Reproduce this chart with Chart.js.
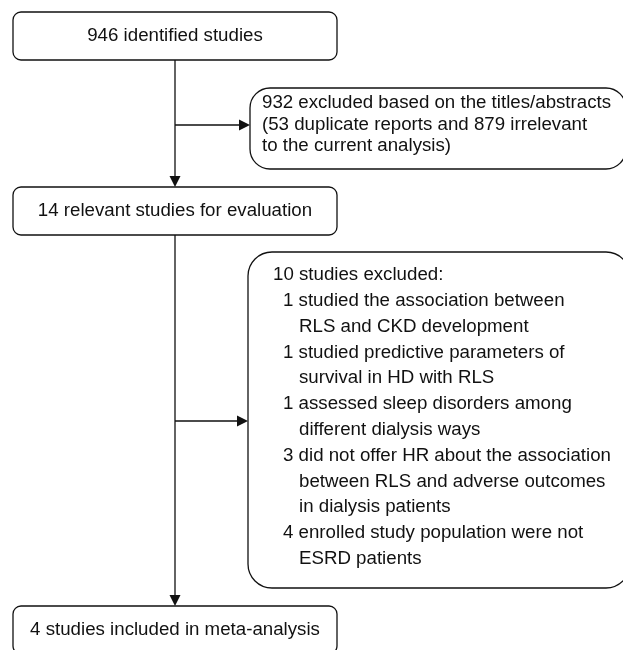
<!DOCTYPE html>
<html lang="en">
<head>
<meta charset="UTF-8">
<title>Study selection flow</title>
<style>
  html, body { margin: 0; padding: 0; background: #fff; overflow: hidden; }
</style>
</head>
<body>
<canvas id="flow" width="623" height="650"></canvas>
<script src="https://cdn.jsdelivr.net/npm/chart.js/dist/chart.umd.min.js"></script>
<script>
    // numbers of studies at each step
    const identified = 946;
    const excludedTitle = 932;
    const duplicates = 53;
    const irrelevant = 879;
    const relevant = 14;
    const excludedTotal = 10;
    const reasonCounts = [1, 1, 1, 3, 4];
    const included = 4;

    // wording for each exclusion reason (one entry per wrapped line)
    const reasonText = [
        ['studied the association between', 'RLS and CKD development'],
        ['studied predictive parameters of', 'survival in HD with RLS'],
        ['assessed sleep disorders among', 'different dialysis ways'],
        ['did not offer HR about the association', 'between RLS and adverse outcomes', 'in dialysis patients'],
        ['enrolled study population were not', 'ESRD patients']
    ];

    // boxes in pixel units of the 623 x 650 canvas (the scales run 0..623 and 0..650)
    const boxes = {
        identified: { x1: 13, y1: 12, x2: 337, y2: 60, r: 8 },
        excluded1: { x1: 250, y1: 88, x2: 626, y2: 169, r: 20 },
        relevant: { x1: 13, y1: 187, x2: 337, y2: 235, r: 8 },
        excluded2: { x1: 248, y1: 252, x2: 630, y2: 588, r: 24 },
        included: { x1: 13, y1: 606, x2: 337, y2: 654, r: 8 }
    };
    const spineX = 175;
    const branchY = [125, 421];
    const firstLines = { x: 262, y: 103, gap: 21.6 };
    const reasonLines = { x: 273, y: 275, gap: 25.8 };
    const indent = [0, 10, 26];

    const FONT = '18.7px "Liberation Sans", Arial, sans-serif';
    const INK = '#111';

    function roundBox(ctx, x1, y1, x2, y2, r) {
        ctx.beginPath();
        ctx.moveTo(x1 + r, y1);
        ctx.arcTo(x2, y1, x2, y2, r);
        ctx.arcTo(x2, y2, x1, y2, r);
        ctx.arcTo(x1, y2, x1, y1, r);
        ctx.arcTo(x1, y1, x2, y1, r);
        ctx.closePath();
        ctx.stroke();
    }

    function arrowHead(ctx, x, y, dir) {
        const L = 11, W = 5.5;
        ctx.beginPath();
        if (dir === 'down') {
            ctx.moveTo(x, y);
            ctx.lineTo(x - W, y - L);
            ctx.lineTo(x + W, y - L);
        } else {
            ctx.moveTo(x, y);
            ctx.lineTo(x - L, y - W);
            ctx.lineTo(x - L, y + W);
        }
        ctx.closePath();
        ctx.fill();
    }

    const flowPlugin = {
        id: 'flow',
        afterDraw(chart) {
            const ctx = chart.ctx;
            const sx = chart.scales.x, sy = chart.scales.y;
            const X = v => sx.getPixelForValue(v);
            const Y = v => sy.getPixelForValue(v);
            ctx.save();
            ctx.strokeStyle = INK;
            ctx.fillStyle = INK;
            ctx.lineWidth = 1.3;

            // boxes
            Object.values(boxes).forEach(b => roundBox(ctx, X(b.x1), Y(b.y1), X(b.x2), Y(b.y2), b.r));

            // connectors
            const b = boxes;
            ctx.beginPath();
            ctx.moveTo(X(spineX), Y(b.identified.y2));
            ctx.lineTo(X(spineX), Y(b.relevant.y1) - 10);
            ctx.moveTo(X(spineX), Y(b.relevant.y2));
            ctx.lineTo(X(spineX), Y(b.included.y1) - 10);
            ctx.moveTo(X(spineX), Y(branchY[0]));
            ctx.lineTo(X(b.excluded1.x1) - 10, Y(branchY[0]));
            ctx.moveTo(X(spineX), Y(branchY[1]));
            ctx.lineTo(X(b.excluded2.x1) - 10, Y(branchY[1]));
            ctx.stroke();
            arrowHead(ctx, X(spineX), Y(b.relevant.y1), 'down');
            arrowHead(ctx, X(spineX), Y(b.included.y1), 'down');
            arrowHead(ctx, X(b.excluded1.x1), Y(branchY[0]), 'right');
            arrowHead(ctx, X(b.excluded2.x1), Y(branchY[1]), 'right');

            // texts
            ctx.font = FONT;
            ctx.textBaseline = 'middle';
            ctx.textAlign = 'center';
            const mid = bx => X((bx.x1 + bx.x2) / 2);
            const midY = bx => Y((bx.y1 + bx.y2) / 2);
            ctx.fillText(identified + ' identified studies', mid(b.identified), midY(b.identified));
            ctx.fillText(relevant + ' relevant studies for evaluation', mid(b.relevant), midY(b.relevant));
            ctx.fillText(included + ' studies included in meta-analysis', mid(b.included), midY(b.included));

            ctx.textAlign = 'left';
            const first = [
                excludedTitle + ' excluded based on the titles/abstracts',
                '(' + duplicates + ' duplicate reports and ' + irrelevant + ' irrelevant',
                'to the current analysis)'
            ];
            first.forEach((t, i) => ctx.fillText(t, X(firstLines.x), Y(firstLines.y + i * firstLines.gap)));

            const rows = [[0, excludedTotal + ' studies excluded:']];
            reasonCounts.forEach((n, i) => {
                reasonText[i].forEach((t, j) => {
                    rows.push(j === 0 ? [1, n + ' ' + t] : [2, t]);
                });
            });
            rows.forEach((row, i) => {
                ctx.fillText(row[1], X(reasonLines.x + indent[row[0]]), Y(reasonLines.y + i * reasonLines.gap));
            });
            ctx.restore();
        }
    };

    new Chart(document.getElementById('flow'), {
        type: 'scatter',
        data: { datasets: [{ data: [], pointRadius: 0 }] },
        options: {
            responsive: false,
            animation: false,
            devicePixelRatio: 1,
            layout: { padding: 0 },
            plugins: { legend: { display: false }, tooltip: { enabled: false } },
            scales: {
                x: { type: 'linear', min: 0, max: 623, display: false },
                y: { type: 'linear', min: 0, max: 650, reverse: true, display: false }
            }
        },
        plugins: [flowPlugin]
    });
</script>
</body>
</html>
